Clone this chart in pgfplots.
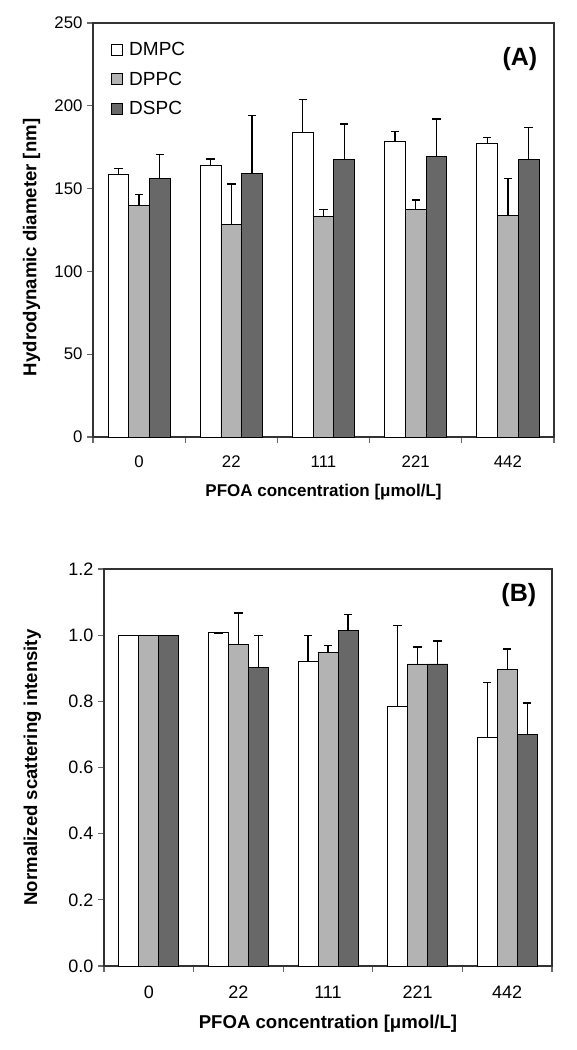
\documentclass[border=0pt]{standalone}
\usepackage{fontspec}
\setmainfont{Liberation Sans}
\usepackage{pgfplots}
\pgfplotsset{compat=1.18}
\definecolor{cDPPC}{RGB}{179,179,179}
\definecolor{cDSPC}{RGB}{104,104,104}
\definecolor{tickgray}{RGB}{105,105,105}
\definecolor{axisgray}{RGB}{50,50,50}

\pgfplotsset{
 myaxis/.style={
  scale only axis,
  ybar=0pt,
  xmin=-0.5, xmax=4.5,
  xtick={-0.5,0.5,1.5,2.5,3.5,4.5},
  x tick label as interval,
  xticklabels={0,22,111,221,442},
  tick style={draw=tickgray, line width=1.1pt},
  x tick style={draw=tickgray, line width=1.1pt},
  y tick style={draw=tickgray, line width=1.1pt},
  major tick length=6pt,
  tick align=outside,
  xtick pos=left, ytick pos=left,
  axis line style={line width=1.4pt, axisgray},
  /pgf/number format/assume math mode=true,
  y tick label style={xshift=-1pt},
  ylabel style={rotate=0, anchor=center},
  xlabel style={anchor=center},
  every axis plot/.append style={draw=black, line width=0.9pt},
  error bars/y dir=plus,
  error bars/y explicit,
  error bars/error bar style={line width=1.3pt, black},
  error bars/error mark options={black, line width=1.3pt, mark size=4.2pt, rotate=90},
 }
}

\begin{document}
\begin{tikzpicture}
\useasboundingbox (0,0) rectangle (576pt,-1050pt);

% Panel A
\begin{axis}[myaxis,
  at={(93pt,-23pt)}, anchor=north west,
  width=461pt, height=414pt,
  ymin=0, ymax=250, ytick={0,50,100,150,200,250},
  bar width=20.7pt,
  tick label style={font=\fontsize{16.8}{16.8}\selectfont},
  x tick label style={yshift=-9pt, text height=12.1pt, text depth=0pt},
  xlabel style={font=\fontsize{17}{17}\selectfont\bfseries},
  ylabel style={font=\fontsize{18.6}{18.6}\selectfont\bfseries},
  ylabel={Hydrodynamic diameter [nm]},
  ylabel style={at={(axis description cs:-0.133,0.458)}},
  xlabel={PFOA concentration [μmol/L]},
  xlabel style={at={(axis description cs:0.5,-0.133)}},
  legend style={at={(axis description cs:0.033,0.963)}, anchor=north west,
    draw=none, fill=none, font=\fontsize{19}{19}\selectfont, row sep=10.5pt,
    column sep=4pt, legend cell align=left},
  legend image code/.code={\draw[#1, line width=0.8pt, draw=black] (0pt,-5.5pt) rectangle (11pt,5.5pt);},
]
\addplot[fill=white] coordinates {
 (0,158.3) +- (0,3.8)
 (1,164.0) +- (0,3.8)
 (2,184.1) +- (0,19.5)
 (3,178.2) +- (0,6.1)
 (4,177.0) +- (0,3.7)
};
\addplot[fill=cDPPC] coordinates {
 (0,139.6) +- (0,6.7)
 (1,128.1) +- (0,24.6)
 (2,133.2) +- (0,4.2)
 (3,137.4) +- (0,5.8)
 (4,134.0) +- (0,22.3)
};
\addplot[fill=cDSPC] coordinates {
 (0,156.1) +- (0,14.5)
 (1,159.1) +- (0,35.0)
 (2,167.6) +- (0,21.5)
 (3,169.2) +- (0,22.9)
 (4,167.6) +- (0,19.5)
};
\legend{DMPC,DPPC,DSPC}
\node[font=\fontsize{25}{25}\selectfont\bfseries] at (axis description cs:0.926,0.913) {(A)};
\end{axis}

% Panel B
\begin{axis}[myaxis,
  at={(104pt,-569pt)}, anchor=north west,
  width=448pt, height=397pt,
  ymin=0, ymax=1.2, ytick={0,0.2,0.4,0.6,0.8,1.0,1.2},
  yticklabel style={/pgf/number format/.cd, fixed, fixed zerofill, precision=1},
  bar width=20pt,
  tick label style={font=\fontsize{18}{18}\selectfont},
  x tick label style={yshift=-10pt, text height=12.9pt, text depth=0pt},
  label style={font=\fontsize{18.6}{18.6}\selectfont\bfseries},
  ylabel={Normalized scattering intensity},
  ylabel style={at={(axis description cs:-0.160,0.5)}},
  xlabel={PFOA concentration [μmol/L]},
  xlabel style={at={(axis description cs:0.5,-0.146)}},
]
\addplot[fill=white] coordinates {
 (0,1.000) +- (0,0)
 (1,1.007) +- (0,0)
 (2,0.921) +- (0,0.079)
 (3,0.784) +- (0,0.245)
 (4,0.692) +- (0,0.166)
};
\addplot[fill=cDPPC] coordinates {
 (0,1.000) +- (0,0)
 (1,0.972) +- (0,0.095)
 (2,0.949) +- (0,0.019)
 (3,0.913) +- (0,0.051)
 (4,0.896) +- (0,0.062)
};
\addplot[fill=cDSPC] coordinates {
 (0,1.000) +- (0,0)
 (1,0.903) +- (0,0.097)
 (2,1.015) +- (0,0.047)
 (3,0.913) +- (0,0.069)
 (4,0.700) +- (0,0.095)
};
\node[font=\fontsize{25}{25}\selectfont\bfseries] at (axis description cs:0.926,0.934) {(B)};
\end{axis}
\end{tikzpicture}
\end{document}
